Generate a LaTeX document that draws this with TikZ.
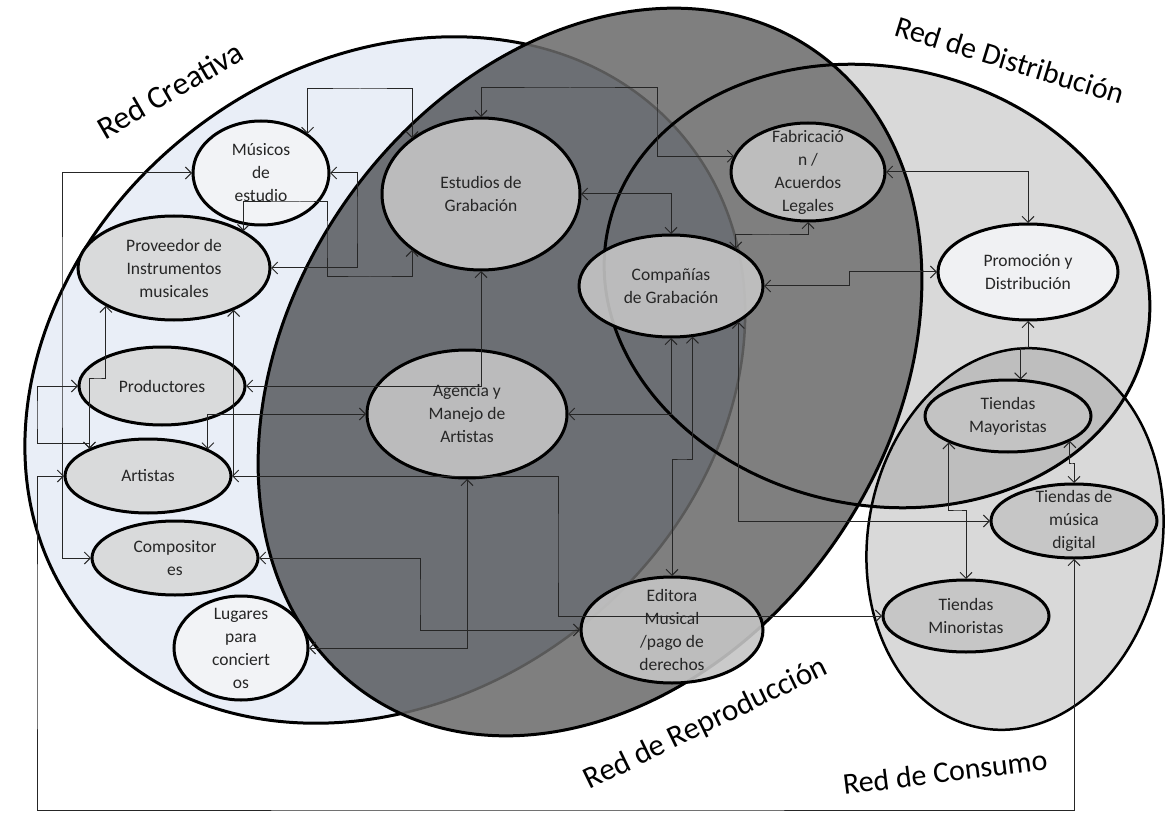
\documentclass[tikz,border=0pt]{standalone}
\usepackage{fontspec}
\setmainfont{Carlito}
\usetikzlibrary{arrows.meta,shapes.geometric}

\definecolor{creafill}{RGB}{233,238,247}
\definecolor{repfill}{RGB}{127,127,127}
\definecolor{overlapfill}{RGB}{108,111,116}
\definecolor{distfill}{RGB}{217,217,217}
\definecolor{lensfill}{RGB}{190,190,190}
\definecolor{paleNode}{RGB}{243,244,246}
\definecolor{lightNode}{RGB}{216,216,216}
\definecolor{midNode}{RGB}{196,196,196}

\begin{document}
\begin{tikzpicture}[x=1pt,y=-1pt,
  rotC/.style={rotate around={38:(385,380)}},
  rotR/.style={rotate around={55:(590,372)}},
  rotD/.style={rotate around={-12:(877,286)}},
  rotK/.style={rotate around={-10:(1015,539)}},
  rim/.style={draw=black, line width=3pt},
  netnode/.style={ellipse, draw=black, line width=3pt, inner sep=-16pt, outer sep=1pt,
    align=center, text=black!85, font=\fontsize{17.5}{23}\selectfont,
    fill opacity=0.9, text opacity=1},
  pale/.style={netnode, fill=paleNode},
  light/.style={netnode, fill=lightNode},
  mid/.style={netnode, fill=midNode},
  link/.style={draw=black!85, line width=1pt,
    {Straight Barb[length=6pt,width=12pt]}-{Straight Barb[length=6pt,width=12pt]}},
  halflink/.style={draw=black!85, line width=1pt,
    {Straight Barb[length=6pt,width=12pt]}-},
  netlabel/.style={font=\fontsize{30}{36}\selectfont, text=black, inner sep=0pt}
]
\useasboundingbox (0,0) rectangle (1167,818);

% ---- network regions ----
\fill[creafill, rotC] (385,380) ellipse [x radius=385, y radius=315];
\fill[distfill, rotD] (877,286) ellipse [x radius=275, y radius=219];
\fill[distfill, rotK] (1015,539) ellipse [x radius=147, y radius=192];
\begin{scope}
  \clip[rotD] (877,286) ellipse [x radius=275, y radius=219];
  \fill[lensfill, rotK] (1015,539) ellipse [x radius=147, y radius=192];
\end{scope}
\draw[rim, rotC] (385,380) ellipse [x radius=385, y radius=315];
\fill[repfill, rotR] (590,372) ellipse [x radius=392, y radius=298];
\begin{scope}
  \clip[rotR] (590,372) ellipse [x radius=392, y radius=298];
  \fill[overlapfill, rotC] (385,380) ellipse [x radius=385, y radius=315];
  \draw[draw=black!65, line width=2.5pt, rotC] (385,380) ellipse [x radius=385, y radius=315];
\end{scope}
\draw[rim, rotD] (877,286) ellipse [x radius=275, y radius=219];
\draw[rim, line width=2.5pt, rotK] (1015,539) ellipse [x radius=147, y radius=192];
\draw[rim, rotR] (590,372) ellipse [x radius=392, y radius=298];

% ---- actors ----
\node[pale,  minimum width=136, minimum height=104] (mus)  at (261,173) {Músicos\\de\\estudio};
\node[light, minimum width=192, minimum height=104] (prov) at (174,268) {Proveedor de\\Instrumentos\\musicales};
\node[light, minimum width=166, minimum height=78]  (prod) at (162,386) {Productores};
\node[light, minimum width=166, minimum height=74]  (art)  at (148,476) {Artistas};
\node[light, minimum width=166, minimum height=74]  (comp) at (175,558) {Compositor\\es};
\node[pale,  minimum width=134, minimum height=104] (lug)  at (241,648) {Lugares\\para\\conciert\\os};
\node[mid,   minimum width=198, minimum height=152] (est)  at (481,194) {Estudios de\\Grabación};
\node[mid,   minimum width=200, minimum height=128] (age)  at (467,414) {Agencia y\\Manejo de\\Artistas};
\node[mid,   minimum width=184, minimum height=102] (cia)  at (671,286) {Compañías\\de Grabación};
\node[mid,   minimum width=154, minimum height=98]  (fab)  at (808,172) {Fabricació\\n /\\Acuerdos\\Legales};
\node[pale,  minimum width=180, minimum height=96]  (pro)  at (1028,272) {Promoción y\\Distribución};
\node[mid,   minimum width=166, minimum height=72]  (may)  at (1008,416) {Tiendas\\Mayoristas};
\node[mid,   minimum width=166, minimum height=74]  (dig)  at (1074,521) {Tiendas de\\música\\digital};
\node[mid,   minimum width=166, minimum height=72]  (min)  at (966,616) {Tiendas\\Minoristas};
\node[mid,   minimum width=182, minimum height=106] (edi)  at (672,630) {Editora\\Musical\\/pago de\\derechos};

% ---- connectors ----
\draw[link] (mus.west) -| (62,300) |- (comp.west);
\draw[link] (prov.209) |- (98,378) -| (art.155);
\draw[halflink] (prov.325) -- (prov.325 |- art.east);
\draw[link] (prod.west) -| (37,415) |- (art.155 |- 0,443) -- (art.155);
\draw[link] (art.24) |- (age.west);
\draw[link] (prod.east) -| (est.south);
\draw[link] (lug.east) -| (age.south);
\draw[link] (age.east) -| (cia.south);
\draw[link] (cia.293) |- (682,459) -| (edi.north);
\draw[link] (cia.332) |- (dig.west);
\draw[link] (est.east) -| (cia.north);
\draw[link] (est.north) |- (570,88) -| (657,120) |- (fab.168);
\draw[link] (mus.40) |- (360,89) -| (est.141);
\draw[link] (mus.east) -| (357,220) |- (prov.east);
\draw[link] (prov.28) |- (300,202) -| (327,240) |- (370,277) -| (est.219);
\draw[link] (cia.30) |- (770,235) -| (fab.south);
\draw[link] (cia.east) -| (849,280) |- (pro.west);
\draw[link] (fab.east) -| (pro.north);
\draw[link] (pro.south) |- (1024,347) -| (may.71);
\draw[link] (may.204) |- (958,510) -| (min.north);
\draw[link] (may.338) |- (1072,463) -| (dig.north);
\draw[link] (art.west) -| (37,650) |- (500,810) -| (dig.south);
\draw[link] (art.east) -| (558,550) |- (min.west);
\draw[link] (comp.east) -| (420,600) |- (edi.west);

% ---- network names ----
\node[netlabel, rotate=30, font=\fontsize{32}{38}\selectfont] (labC) at (170,90) {Red Creativa};
\node[netlabel, rotate=-17] (labD) at (1010,60) {Red de Distribución};
\node[netlabel, rotate=26, font=\fontsize{31}{37}\selectfont] (labR) at (706,724) {Red de Reproducción};
\node[netlabel, rotate=7]   (labK) at (945,772) {Red de Consumo};
\end{tikzpicture}
\end{document}
